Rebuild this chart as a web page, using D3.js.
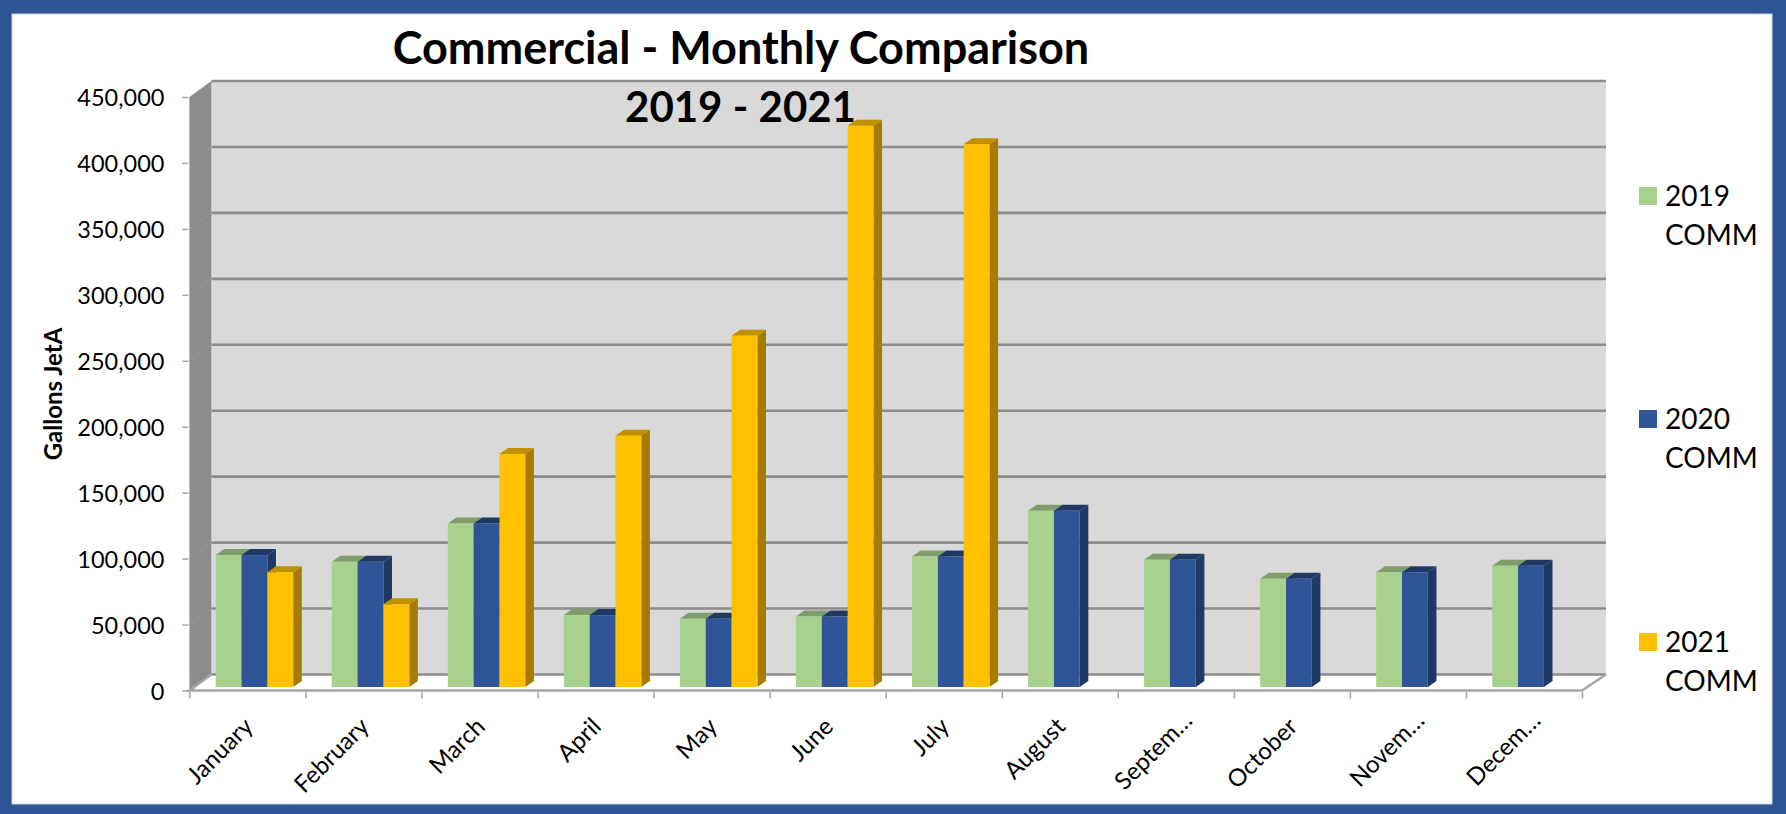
<!DOCTYPE html>
<html><head><meta charset="utf-8">
<script src="https://cdnjs.cloudflare.com/ajax/libs/d3/7.8.5/d3.min.js"></script>
<style>html,body{margin:0;padding:0;background:#fff}svg{display:block}text{font-family:Lato,"Open Sans",sans-serif;fill:#000}</style>
</head><body><svg id="c" width="1786" height="814"></svg>
<script>
const months=["January","February","March","April","May","June","July","August","September","October","November","December"];
const monthLabels=["January","February","March","April","May","June","July","August","Septem…","October","Novem…","Decem…"];
const seriesNames=["2019 COMM","2020 COMM","2021 COMM"];
const comm2019=[100000,95000,124000,54500,51700,53400,99000,133600,96500,82000,87000,92000];
const comm2020=[100000,95000,124000,54500,51700,53400,99000,133600,96500,82000,87000,92000];
const comm2021=[87000,62700,176700,190500,266400,425500,411500,null,null,null,null,null];
const yTicks=[0,50000,100000,150000,200000,250000,300000,350000,400000,450000];
const seriesValues=[comm2019,comm2020,comm2021];
const front=["#A9D18E","#2F5597","#FFC000"],top_=["#7F9D6A","#203864","#BF9000"],side=["#7F9D6A","#203864","#A67C00"];

const svg=d3.select("#c");
const W=1786,H=814;
// frame
svg.append("rect").attr("width",W).attr("height",H).attr("fill","#2F5597");
svg.append("rect").attr("x",12).attr("y",14).attr("width",1760).attr("height",790).attr("fill","#fff").attr("stroke","#C9D6EA").attr("stroke-width",1);

const dxW=22,dxR=24,dyW=-16;               // wall depth
const y=d3.scaleLinear().domain([0,450000]).range([690.5,97]);
const x=d3.scaleBand().domain(months).range([189.4,1582]);
const xEdge=d3.scaleLinear().domain([0,12]).range([189.4,1582]);
const inner=d3.scaleBand().domain([0,1,2]).range([26.3,103.8]);
const L=x.range()[0],R=x.range()[1];
// back wall
const g=svg.append("g");
g.append("rect").attr("x",L+dxW).attr("y",y(450000)+dyW).attr("width",R+dxR-L-dxW).attr("height",y(0)-y(450000)).attr("fill","#D9D9D9");
// side wall
g.append("path").attr("fill","#8C8C8C").attr("d",d3.line()([[L,y(0)],[L,y(450000)],[L+dxW,y(450000)+dyW],[L+dxW,y(0)+dyW]]));
// floor
g.append("path").attr("fill","#fff").attr("d",d3.line()([[L,y(0)],[L+dxW,y(0)+dyW],[R+dxR,y(0)+dyW],[R,y(0)]]));
// gridlines on back wall
g.selectAll(".gl").data(yTicks).join("line").attr("x1",L+dxW).attr("x2",R+dxR)
 .attr("y1",d=>y(d)+dyW).attr("y2",d=>y(d)+dyW).attr("stroke","#8C8C8C").attr("stroke-width",2.6);
// gridlines on side wall
g.selectAll(".gs").data(yTicks.slice(1,-1)).join("line").attr("x1",L).attr("x2",L+dxW)
 .attr("y1",d=>y(d)).attr("y2",d=>y(d)+dyW).attr("stroke","#969696").attr("stroke-width",1);
// floor edges
g.append("path").attr("fill","none").attr("stroke","#A6A6A6").attr("stroke-width",2.6)
 .attr("d",d3.line()([[L+dxW,y(0)+dyW],[L,y(0)],[R,y(0)],[R+dxR,y(0)+dyW]]));

// y axis
const ya=svg.append("g").attr("transform",`translate(${L-1},1)`).call(d3.axisLeft(y).tickValues(yTicks).tickFormat(d3.format(",")).tickSize(6).tickPadding(18));
ya.select(".domain").remove();
ya.selectAll("line").attr("stroke","#A6A6A6").attr("stroke-width",1.5).attr("transform","translate(0,-1)");
ya.selectAll("text").attr("font-size",23.5).style("font-family","Lato");
// x axis ticks
const xa=svg.append("g").attr("transform",`translate(0,${y(0)+1})`).call(d3.axisBottom(xEdge).tickValues(d3.range(13)).tickFormat("").tickSize(7));
xa.select(".domain").remove();
xa.selectAll("line").attr("stroke","#A6A6A6").attr("stroke-width",1.5);
// x labels: the truncated ones sit further along the rotated baseline
svg.append("g").selectAll("text").data(months).join("text")
 .attr("text-anchor","end").attr("font-size",24)
 .attr("transform",(d,i)=>{const tr=monthLabels[i].endsWith("…");
   return `translate(${x(d)+x.bandwidth()/2+7+(tr?11:0)},${728+(tr?-6:0)}) rotate(-45)`;})
 .text((d,i)=>monthLabels[i]);

// bars
const baseY=687, zeroShift=baseY-y(0);
const ddx=8.6,ddy=-6;
const bars=svg.append("g");
months.forEach((m,i)=>{
  seriesValues.forEach((vals,s)=>{
    const v=vals[i]; if(v==null) return;
    const x0=x(m)+inner(s),w=inner.bandwidth(),yt=y(v)+zeroShift,yb=baseY;
    const b=bars.append("g");
    b.append("path").attr("fill",side[s]).attr("d",d3.line()([[x0+w,yt],[x0+w+ddx,yt+ddy],[x0+w+ddx,yb+ddy],[x0+w,yb]]));
    b.append("path").attr("fill",top_[s]).attr("d",d3.line()([[x0,yt],[x0+ddx,yt+ddy],[x0+w+ddx,yt+ddy],[x0+w,yt]]));
    b.append("rect").attr("x",x0).attr("y",yt).attr("width",w).attr("height",yb-yt).attr("fill",front[s]);
  });
});

// title
const t=svg.append("g").attr("text-anchor","middle");
t.append("text").attr("x",741).attr("y",64).attr("font-size",45).style("font-weight",700).text("Commercial - Monthly Comparison");
t.append("text").attr("x",740.5).attr("y",122).attr("font-size",42).style("font-weight",700).text("2019 - 2021");
// axis title
svg.append("text").attr("transform","translate(62,394) rotate(-90)").attr("text-anchor","middle").attr("font-size",24).style("font-weight",700).text("Gallons JetA");
// legend
const legY=[187,410,633];
const lg=svg.append("g").selectAll("g").data(seriesNames).join("g").attr("transform",(d,i)=>`translate(1639,${legY[i]})`);
lg.append("rect").attr("width",18).attr("height",18).attr("fill",(d,i)=>front[i]);
lg.append("text").attr("x",26).attr("y",19).attr("font-size",28).text(d=>d.split(" ")[0]);
lg.append("text").attr("x",26).attr("y",58).attr("font-size",28).text(d=>d.split(" ")[1]);
</script></body></html>
